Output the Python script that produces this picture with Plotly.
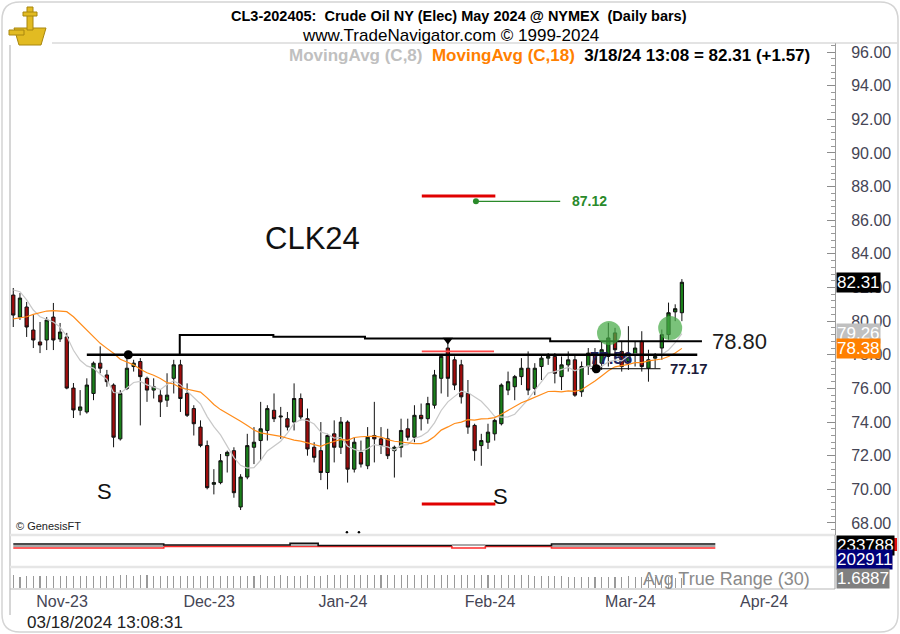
import pandas as pd
import numpy as np
import plotly.graph_objects as go

# ---------------- data ----------------
holidays = ["2023-12-25", "2024-01-01"]
dates = [d for d in pd.bdate_range("2023-10-26", "2024-03-18") if d.strftime("%Y-%m-%d") not in holidays]

opens = [81.55, 80.24, 80.84, 79.47, 78.76, 78.88, 80.24, 78.94, 79.06, 76.02,
         74.70, 74.60, 75.70, 77.50, 76.80, 76.20, 73.00, 76.00, 77.30, 77.60,
         76.60, 75.90, 75.60, 75.30, 76.60, 77.40, 75.70, 74.80, 73.70, 72.60,
         70.30, 70.40, 72.00, 72.30, 68.95, 70.73, 72.50, 72.90, 73.50, 74.70,
         74.30, 74.20, 74.00, 75.40, 74.20, 72.50, 72.30, 71.00, 73.30, 72.50,
         74.00, 71.20, 72.20, 71.40, 73.20, 73.00, 73.00, 72.30, 72.50, 73.60,
         73.10, 74.40, 74.20, 75.00, 76.60, 78.40, 77.70, 77.40, 75.70, 73.80,
         72.60, 72.80, 73.30, 73.90, 75.90, 76.10, 76.70, 77.20, 76.00, 77.30,
         77.80, 77.90, 76.70, 77.40, 77.70, 75.80, 77.30, 78.00, 77.50, 77.90,
         79.30, 78.20, 77.60, 78.00, 78.80, 77.20, 77.80, 78.40, 79.20, 80.55,
         80.50]
highs = [81.97, 81.67, 81.14, 80.36, 79.95, 80.24, 81.08, 79.89, 79.30, 76.32,
         75.90, 76.60, 77.60, 78.50, 77.10, 76.30, 75.90, 77.90, 77.70, 77.80,
         76.70, 76.60, 75.90, 76.90, 77.70, 77.70, 76.30, 75.00, 74.10, 72.90,
         71.20, 72.10, 72.30, 72.50, 70.90, 73.30, 73.70, 75.20, 75.00, 75.70,
         74.90, 74.60, 76.30, 75.70, 74.80, 72.80, 74.00, 73.30, 74.10, 74.30,
         74.10, 73.10, 72.90, 73.70, 75.20, 73.70, 73.60, 72.60, 74.20, 74.20,
         75.00, 75.10, 75.50, 77.10, 78.00, 78.90, 77.90, 77.70, 76.50, 73.90,
         73.30, 73.90, 74.20, 76.30, 77.00, 76.80, 77.80, 78.20, 77.50, 78.00,
         78.10, 78.10, 77.90, 78.20, 78.00, 77.60, 78.40, 78.40, 78.80, 79.90,
         79.60, 78.80, 79.70, 78.80, 79.40, 78.30, 78.10, 79.50, 81.10, 81.00,
         82.50]
lows = [79.65, 80.07, 79.06, 78.40, 78.10, 78.28, 78.28, 78.76, 75.95, 74.24,
        74.40, 74.50, 75.30, 76.90, 76.10, 72.50, 72.90, 75.90, 77.00, 73.80,
        75.20, 75.40, 74.30, 74.90, 75.70, 74.60, 74.30, 73.20, 72.50, 70.00,
        69.70, 70.30, 71.00, 69.50, 68.77, 70.60, 71.50, 71.70, 72.90, 74.00,
        73.00, 73.50, 73.50, 74.10, 72.00, 71.60, 70.55, 70.00, 71.60, 72.10,
        70.40, 71.00, 71.30, 71.20, 71.60, 72.10, 71.80, 70.70, 71.90, 72.90,
        72.80, 73.50, 73.90, 74.80, 75.70, 75.50, 75.90, 75.10, 73.30, 71.70,
        71.40, 72.40, 72.90, 73.80, 75.60, 75.30, 76.20, 75.60, 75.60, 76.50,
        77.40, 76.30, 75.90, 77.00, 75.50, 75.50, 76.80, 76.90, 77.10, 77.30,
        77.60, 77.00, 77.10, 77.30, 77.00, 76.40, 77.20, 77.70, 78.90, 80.00,
        80.00]
closes = [80.36, 81.37, 79.65, 78.88, 78.58, 80.07, 78.88, 79.35, 76.02, 74.72,
          74.90, 76.20, 77.50, 77.20, 76.40, 73.10, 75.70, 77.20, 77.50, 76.70,
          75.90, 76.10, 75.20, 75.60, 77.40, 75.40, 74.40, 73.90, 72.60, 70.10,
          70.40, 71.70, 72.20, 69.80, 70.73, 72.60, 72.80, 73.60, 74.80, 74.20,
          74.35, 73.70, 75.40, 74.30, 72.40, 71.90, 71.00, 73.20, 72.50, 74.00,
          71.20, 72.80, 71.50, 73.10, 73.00, 72.60, 72.00, 72.50, 73.50, 73.10,
          74.40, 74.20, 75.10, 76.80, 77.90, 76.60, 76.20, 75.50, 73.70, 72.30,
          72.90, 73.40, 74.10, 76.20, 76.40, 76.70, 77.20, 75.90, 77.20, 77.80,
          77.90, 76.90, 77.40, 77.70, 75.60, 77.30, 78.10, 77.20, 78.30, 79.00,
          78.30, 77.30, 78.00, 78.40, 77.30, 77.70, 77.90, 79.20, 80.50, 80.74,
          82.31]

# moving-average values read from the chart where the window is not yet full
ma8_head = [81.85, 81.75, 81.26, 80.66, 80.26, 80.10, 79.95]
ma18_head = [80.13, 80.20, 80.26, 80.40, 80.50, 80.60, 80.62, 80.60, 80.56,
             80.26, 79.87, 79.47, 79.07, 78.68, 78.38, 78.09, 77.73]

# hand-drawn study levels (bar-index positions, price)
neck_x = [11.0, 102.3]
neck_y = [78.00, 78.00]
upper_x = [24.9, 24.9, 38.9, 38.9, 52.6, 52.6, 80.3, 80.3, 103.0]
upper_y = [78.00, 79.17, 79.17, 79.07, 79.07, 78.97, 78.97, 78.80, 78.80]
level_7717_x = [86.3, 96.8]
level_7717_y = [77.17, 77.17]
target_red_x = [61.1, 72.1]
target_red_y = [87.44, 87.44]
target_green_x = [69.2, 81.8]
target_green_y = [87.12, 87.12]
top_red_x = [61.1, 71.9]
top_red_y = [78.20, 78.20]
low_red_x = [61.1, 72.1]
low_red_y = [69.13, 69.13]
dots_x = [17.2, 87.2]
dots_y = [78.00, 77.17]
peak_x = [65.0]
peak_y = [78.88]
circle_x = [89.1, 98.25]
circle_y = [79.29, 79.59]
small_dots_x = [49.9, 51.7]
small_dots_y = [67.45, 67.45]

# lower panel (volume / open interest) step levels
seg_bounds = [0, 22.5, 41.4, 45.6, 65.6, 70.6, 80.5, 105]
oi_black = [8.8, 8.4, 9.1, 8.2, None, 8.2, 8.8]
oi_gray = [8.0, None, 8.4, None, 8.4, None, 8.0]
oi_red = [7.2, 7.9, 7.9, 7.8, 7.2, 7.8, 7.2]

month_labels = ["Nov-23", "Dec-23", "Jan-24", "Feb-24", "Mar-24", "Apr-24"]

# ---------------- derived ----------------
n = len(closes)
idx = list(range(n))
cs = pd.Series(closes)
ma8 = cs.rolling(8).mean().tolist()
ma18 = cs.rolling(18).mean().tolist()
ma8[:len(ma8_head)] = ma8_head
ma18[:len(ma18_head)] = ma18_head

h = pd.Series(highs); l = pd.Series(lows); pc = cs.shift(1)
tr = pd.concat([h - l, (h - pc).abs(), (l - pc).abs()], axis=1).max(axis=1)
atr = tr.rolling(30, min_periods=1).mean().tolist()

month_first = []
seen = set()
for i, d in enumerate(dates):
    key = (d.year, d.month)
    if key not in seen and d.month != 10:
        seen.add(key)
        month_first.append(i)
future = [d for d in pd.bdate_range("2024-03-19", "2024-04-01") if d.strftime("%Y-%m-%d") != "2024-03-29"]
month_first.append(n - 1 + len(future))
label_offset = 3.3
month_ticks = [m + label_offset for m in month_first]

# ---------------- geometry helpers (pixels -> paper) ----------------
W, H = 900, 634
def px(x): return x / W
def py(y): return 1 - y / H

X0, X1 = 10, 835
XR = [-0.49, 122.9]
YR = [67.285, 96.535]

FONT = "Liberation Sans, Arial, sans-serif"

fig = go.Figure()

fig.add_trace(go.Scatter(x=[89.4], y=[77.72], mode="text", text=["<b>77.56</b>"],
                         textfont=dict(size=17, color="#23235e", family=FONT),
                         hoverinfo="skip"))

fig.add_trace(go.Scatter(x=idx, y=ma8, mode="lines", line=dict(color="#c8c8c8", width=1.2),
                         hoverinfo="skip"))
fig.add_trace(go.Scatter(x=idx, y=ma18, mode="lines", line=dict(color="#ff8c1a", width=1.2),
                         hoverinfo="skip"))

fig.add_trace(go.Candlestick(
    x=idx, open=opens, high=highs, low=lows, close=closes,
    increasing=dict(line=dict(color="#111111", width=1), fillcolor="#1a801a"),
    decreasing=dict(line=dict(color="#111111", width=1), fillcolor="#a00c0c"),
    whiskerwidth=0, hoverinfo="skip"))

def line(xs, ys, color, width, **kw):
    fig.add_trace(go.Scatter(x=xs, y=ys, mode="lines", line=dict(color=color, width=width),
                             hoverinfo="skip", **kw))

line(neck_x, neck_y, "#000000", 2.6)
line(upper_x, upper_y, "#000000", 2.0)
line(level_7717_x, level_7717_y, "#000000", 1.0)
line(target_red_x, target_red_y, "#e00000", 3.0)
line(target_green_x, target_green_y, "#2a8a2a", 1.2)
line(top_red_x, top_red_y, "#ff4a4a", 1.6)
line(low_red_x, low_red_y, "#e00000", 3.0)

fig.add_trace(go.Scatter(x=[target_green_x[0]], y=[target_green_y[0]], mode="markers",
                         marker=dict(color="#2a8a2a", size=6), hoverinfo="skip"))
fig.add_trace(go.Scatter(x=dots_x, y=dots_y, mode="markers",
                         marker=dict(color="#000000", size=9), hoverinfo="skip"))
fig.add_trace(go.Scatter(x=peak_x, y=peak_y, mode="markers",
                         marker=dict(color="#000000", size=9, symbol="triangle-down"), hoverinfo="skip"))
fig.add_trace(go.Scatter(x=small_dots_x, y=small_dots_y, mode="markers",
                         marker=dict(color="#000000", size=2.5), hoverinfo="skip"))

for vals, col, wd in [(oi_red, "#ff2a2a", 1.6), (oi_gray, "#a8a8a8", 2.2), (oi_black, "#111111", 1.6)]:
    xs, ys = [], []
    for i, v in enumerate(vals):
        if v is None:
            xs += [None]; ys += [None]
            continue
        xs += [seg_bounds[i], seg_bounds[i + 1]]
        ys += [v, v]
    fig.add_trace(go.Scatter(x=xs, y=ys, mode="lines", line=dict(color=col, width=wd),
                             xaxis="x2", yaxis="y2", hoverinfo="skip"))

fig.add_trace(go.Bar(x=idx, y=atr, xaxis="x3", yaxis="y3", width=0.16,
                     marker=dict(color="#9a9a9a", line=dict(width=0)), hoverinfo="skip"))

# ---------------- shapes ----------------
shapes = []
rx, ry = 18 / W, 18 / H
x0, x1, y0, y1 = px(2), px(898), py(632), py(2)
path = (f"M {x0+rx},{y1} L {x1-rx},{y1} Q {x1},{y1} {x1},{y1-ry} L {x1},{y0+ry} "
        f"Q {x1},{y0} {x1-rx},{y0} L {x0+rx},{y0} Q {x0},{y0} {x0},{y0+ry} "
        f"L {x0},{y1-ry} Q {x0},{y1} {x0+rx},{y1} Z")
shapes.append(dict(type="path", path=path, xref="paper", yref="paper",
                   line=dict(color="#d4d4d4", width=1.5)))
shapes.append(dict(type="line", xref="paper", yref="paper", x0=px(52), x1=px(897), y0=py(43), y1=py(43),
                   line=dict(color="#c8c8c8", width=1.2)))
shapes.append(dict(type="line", xref="paper", yref="paper", x0=px(10), x1=px(10), y0=py(45), y1=py(615),
                   line=dict(color="#c8c8c8", width=1.5)))
shapes.append(dict(type="line", xref="paper", yref="paper", x0=px(10), x1=px(835), y0=py(535), y1=py(535),
                   line=dict(color="#e6e6e6", width=2.5)))
shapes.append(dict(type="line", xref="paper", yref="paper", x0=px(10), x1=px(835), y0=py(567), y1=py(567),
                   line=dict(color="#e6e6e6", width=2.5)))
shapes.append(dict(type="line", xref="paper", yref="paper", x0=px(10), x1=px(835), y0=py(589), y1=py(589),
                   line=dict(color="#b8b8b8", width=1.2)))
shapes.append(dict(type="line", xref="paper", yref="paper", x0=px(835), x1=px(835), y0=py(535), y1=py(589),
                   line=dict(color="#a0a0a0", width=1)))
shapes.append(dict(type="rect", xref="paper", yref="paper", x0=px(893), x1=px(897), y0=py(551), y1=py(538),
                   fillcolor="#e01010", line=dict(width=0)))
gold, gold_dk = "#e2bb22", "#a8860e"
shapes.append(dict(type="path", xref="paper", yref="paper", fillcolor=gold, line=dict(color=gold_dk, width=1),
                   path=f"M {px(14)},{py(28)} L {px(46)},{py(28)} L {px(41)},{py(45)} L {px(19)},{py(45)} Z"))
shapes.append(dict(type="rect", xref="paper", yref="paper", x0=px(27), x1=px(33), y0=py(30), y1=py(7),
                   fillcolor=gold, line=dict(color=gold_dk, width=1)))
shapes.append(dict(type="rect", xref="paper", yref="paper", x0=px(23), x1=px(37), y0=py(16), y1=py(12),
                   fillcolor=gold, line=dict(color=gold_dk, width=1)))
shapes.append(dict(type="rect", xref="paper", yref="paper", x0=px(9), x1=px(24), y0=py(35), y1=py(30),
                   fillcolor=gold, line=dict(color=gold_dk, width=1)))
rxi, ryi = 12 / 6.684, 12 / 16.82
for cx, cy in zip(circle_x, circle_y):
    shapes.append(dict(type="circle", xref="x", yref="y", x0=cx - rxi, x1=cx + rxi, y0=cy - ryi, y1=cy + ryi,
                       fillcolor="rgba(70,170,70,0.72)", line=dict(width=0), layer="above"))

# ---------------- annotations ----------------
ann = []
def txt(x, y, t, size, color="#000000", xanchor="center", bold=False, xref="paper", yref="paper", **kw):
    ann.append(dict(x=x, y=y, xref=xref, yref=yref, text=(f"<b>{t}</b>" if bold else t),
                    showarrow=False, xanchor=xanchor, yanchor="middle",
                    font=dict(size=size, color=color, family=FONT), **kw))

txt(px(459), py(16), "CL3-202405:\u00a0 Crude Oil NY (Elec) May 2024 @ NYMEX\u00a0 (Daily bars)", 14.5, bold=True)
txt(px(450), py(36), "www.TradeNavigator.com © 1999-2024", 17)
txt(px(812), py(55),
    "<span style='color:#c0c0c0'>MovingAvg (C,8)</span>\u00a0 <span style='color:#ff8000'>MovingAvg (C,18)</span>"
    "\u00a0 3/18/24 13:08 = 82.31 (+1.57)", 17, xanchor="right", bold=True)

txt(44.8, 84.94, "CLK24", 31, color="#111111", xref="x", yref="y")
txt(13.7, 69.9, "S", 22, color="#111111", xref="x", yref="y")
txt(72.8, 69.6, "S", 22, color="#111111", xref="x", yref="y")
txt(104.2, 78.80, "78.80", 22, color="#1c1c1c", xanchor="left", xref="x", yref="y")
txt(97.9, 77.17, "77.17", 15, color="#1c1c3c", xanchor="left", bold=True, xref="x", yref="y")
txt(83.3, 87.12, "87.12", 14, color="#2a8a2a", xanchor="left", bold=True, xref="x", yref="y")
txt(px(14), py(526), "© GenesisFT", 11, color="#222222", xanchor="left")
txt(px(726), py(579), "Avg True Range (30)", 18, color="#8a8a8a")
txt(px(25), py(622), "03/18/2024 13:08:31", 17, color="#222222", xanchor="left")

def box(y, yref, t, bg, fg="#ffffff"):
    ann.append(dict(x=px(836), y=y, xref="paper", yref=yref, text=t, showarrow=False,
                    xanchor="left", yanchor="middle", bgcolor=bg, borderpad=0,
                    font=dict(size=17, color=fg, family=FONT)))
box(closes[-1], "y", f"{closes[-1]:.2f}", "#000000")
box(ma8[-1], "y", f"{ma8[-1]:.2f}", "#c0c0c0")
box(ma18[-1], "y", f"{ma18[-1]:.2f}", "#ff8000")
box(py(545), "paper", "233788", "#000000")
box(py(559), "paper", "202911", "#00007a")
box(py(578), "paper", "1.6887", "#808080")

price_ticks = list(range(68, 97, 2))

fig.update_layout(
    width=W, height=H, margin=dict(l=0, r=0, t=0, b=0),
    paper_bgcolor="white", plot_bgcolor="white", showlegend=False,
    hovermode=False, shapes=shapes, annotations=ann, bargap=0,
    xaxis=dict(domain=[px(X0), px(X1)], range=XR, showticklabels=False, showgrid=False,
               zeroline=False, rangeslider=dict(visible=False), fixedrange=True),
    yaxis=dict(domain=[py(535), py(43)], range=YR, side="right", tickvals=price_ticks,
               ticktext=[f"{v:.2f}" for v in price_ticks], ticks="inside", ticklen=8,
               tickcolor="#8c8c8c", showline=True, linecolor="#9a9a9a", linewidth=1,
               minor=dict(dtick=0.4, tick0=68, ticks="inside", ticklen=4, tickcolor="#9a9a9a"),
               tickfont=dict(size=16, color="#454555", family=FONT), ticklabelstandoff=12,
               showgrid=False, zeroline=False),
    xaxis2=dict(domain=[px(X0), px(X1)], range=XR, anchor="y2", visible=False),
    yaxis2=dict(domain=[py(566), py(536)], range=[0, 12], anchor="x2", visible=False),
    xaxis3=dict(domain=[px(X0), px(X1)], range=XR, anchor="y3", tickvals=month_ticks,
                ticktext=month_labels, ticks="", showgrid=False, zeroline=False, showline=False,
                tickfont=dict(size=16, color="#454555", family=FONT), ticklabelstandoff=2),
    yaxis3=dict(domain=[py(588), py(568)], range=[0, 3.45], anchor="x3", visible=False),
)

fig.write_html("out.html", config={"displayModeBar": False, "staticPlot": True},
               post_script="document.body.style.margin='0px';document.body.style.overflow='hidden';")
